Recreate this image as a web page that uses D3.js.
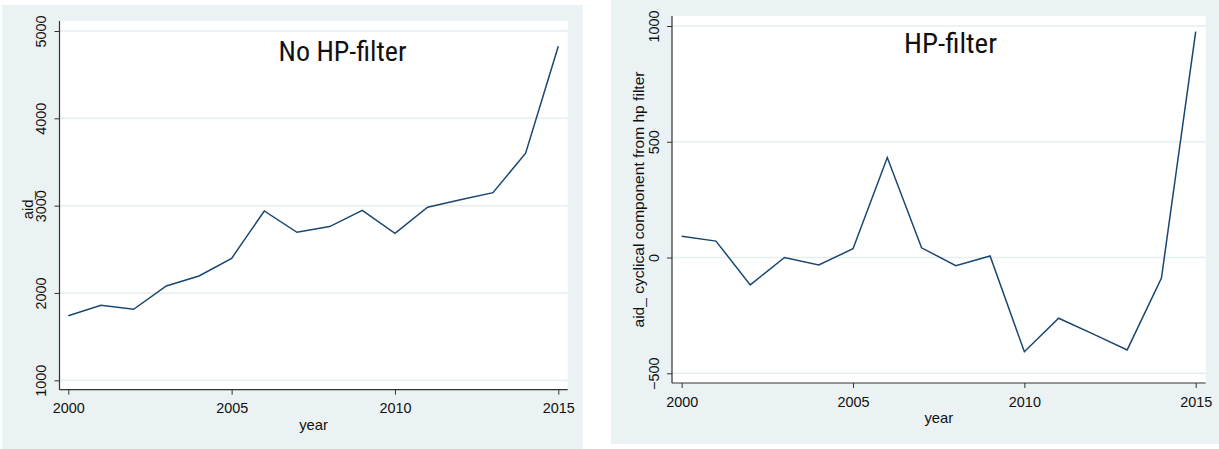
<!DOCTYPE html>
<html>
<head>
<meta charset="utf-8">
<script src="https://cdn.jsdelivr.net/npm/d3@7/dist/d3.min.js"></script>
<style>
  html, body { margin: 0; padding: 0; background: #ffffff; }
  svg { display: block; }
  text { font-family: "Liberation Sans", Arial, Helvetica, sans-serif; fill: #111; }
</style>
</head>
<body>
<svg id="chart" width="1219" height="449"></svg>
<script>
// ---------------- DATA ----------------
const years = [2000, 2001, 2002, 2003, 2004, 2005, 2006, 2007, 2008, 2009, 2010, 2011, 2012, 2013, 2014, 2015];
const aidRaw = [1740, 1859, 1813, 2080, 2195, 2397, 2939, 2695, 2760, 2947, 2684, 2982, 3068, 3149, 3600, 4826];
const aidCycle = [92, 71, -118, 0, -32, 38, 432, 42, -35, 7, -407, -262, -330, -399, -89, 976];
const xTicks = [2000, 2005, 2010, 2015];
const leftYTicks = [1000, 2000, 3000, 4000, 5000];
const rightYTicks = [-500, 0, 500, 1000];
const leftTitle = "No HP-filter";
const rightTitle = "HP-filter";
const xTitle = "year";
const leftYTitle = "aid_";
const rightYTitle = "aid_ cyclical component from hp filter";

// ---------------- LAYOUT ----------------
const BG = "#eaf2f3";
const LINE = "#1a476f";
const GRID = "#e6eef0";
const AXIS = "#333333";

const svg = d3.select("#chart");

const panels = [
  {
    bg: {x: 2, y: 5, w: 580.7, h: 444},
    plot: {x0: 59.5, x1: 567.7, y0: 21, y1: 389.7},
    xRange: [68.3, 558.3],
    yDomain: [1000, 5000], yRange: [380.3, 31],
    yTicks: leftYTicks, values: aidRaw,
    title: leftTitle, titleX: 342.5, titleY: 60.7, titleLen: 128,
    yTitle: leftYTitle, yTitleX: 33,
    yTitleLen: null
  },
  {
    bg: {x: 611, y: 0, w: 608, h: 444},
    plot: {x0: 672, x1: 1205.7, y0: 16, y1: 383},
    xRange: [681.7, 1195.7],
    yDomain: [-500, 1000], yRange: [373.3, 26],
    yTicks: rightYTicks, values: aidCycle,
    title: rightTitle, titleX: 950.5, titleY: 53.3, titleLen: 93,
    yTitle: rightYTitle, yTitleX: 643.5,
    yTitleLen: 256
  }
];

panels.forEach(p => {
  const g = svg.append("g");
  // graph region background
  g.append("rect")
    .attr("x", p.bg.x).attr("y", p.bg.y)
    .attr("width", p.bg.w).attr("height", p.bg.h)
    .attr("fill", BG);
  // plot region
  g.append("rect")
    .attr("x", p.plot.x0).attr("y", p.plot.y0)
    .attr("width", p.plot.x1 - p.plot.x0).attr("height", p.plot.y1 - p.plot.y0)
    .attr("fill", "#ffffff");

  const x = d3.scaleLinear().domain([2000, 2015]).range(p.xRange);
  const y = d3.scaleLinear().domain(p.yDomain).range(p.yRange);

  // gridlines
  g.append("g").selectAll("line")
    .data(p.yTicks)
    .join("line")
    .attr("x1", p.plot.x0).attr("x2", p.plot.x1)
    .attr("y1", d => y(d)).attr("y2", d => y(d))
    .attr("stroke", GRID).attr("stroke-width", 1.5);

  // y axis
  const yAxis = g.append("g")
    .attr("transform", `translate(${p.plot.x0},0)`)
    .call(d3.axisLeft(y).tickValues(p.yTicks).tickSize(5).tickSizeOuter(0).tickFormat(d3.format("d")));
  yAxis.select(".domain").remove();
  yAxis.selectAll(".tick line").attr("stroke", AXIS).attr("stroke-width", 1);
  yAxis.selectAll(".tick text")
    .attr("x", null).attr("dy", null).attr("y", null)
    .attr("transform", "translate(-13.5,0) rotate(-90)")
    .attr("text-anchor", "middle")
    .style("font-size", "14.4px")
    .attr("fill", "#111")
    .attr("font-family", null);

  // x axis
  const xAxis = g.append("g")
    .attr("transform", `translate(0,${p.plot.y1})`)
    .call(d3.axisBottom(x).tickValues(xTicks).tickSize(5).tickSizeOuter(0).tickFormat(d3.format("d")));
  xAxis.select(".domain").remove();
  xAxis.selectAll(".tick line").attr("stroke", AXIS).attr("stroke-width", 1);
  xAxis.selectAll(".tick text")
    .attr("y", 23.5).attr("dy", null)
    .style("font-size", "14.4px")
    .attr("fill", "#111")
    .attr("font-family", null);

  // axis lines
  g.append("line")
    .attr("x1", p.plot.x0).attr("x2", p.plot.x0)
    .attr("y1", p.plot.y0).attr("y2", p.plot.y1)
    .attr("stroke", AXIS).attr("stroke-width", 1.2);
  g.append("line")
    .attr("x1", p.plot.x0).attr("x2", p.plot.x1)
    .attr("y1", p.plot.y1).attr("y2", p.plot.y1)
    .attr("stroke", AXIS).attr("stroke-width", 1.2);

  // series line
  const line = d3.line().x((d, i) => x(years[i])).y(d => y(d));
  g.append("path")
    .datum(p.values)
    .attr("d", line)
    .attr("fill", "none")
    .attr("stroke", LINE)
    .attr("stroke-width", 1.5)
    .attr("stroke-linejoin", "miter");

  // title
  g.append("text")
    .attr("x", p.titleX).attr("y", p.titleY)
    .attr("text-anchor", "middle")
    .attr("textLength", p.titleLen)
    .attr("lengthAdjust", "spacingAndGlyphs")
    .style("font-family", '"Liberation Sans Narrow", "Roboto Condensed", "DejaVu Sans Condensed", Roboto, sans-serif')
    .style("font-size", "28px")
    .text(p.title);

  // x title
  const xc = (p.plot.x0 + p.plot.x1) / 2;
  g.append("text")
    .attr("x", xc).attr("y", p.plot.y1 + 39.8)
    .attr("text-anchor", "middle")
    .style("font-size", "14.8px")
    .text(xTitle);

  // y title
  const yc = (p.plot.y0 + p.plot.y1) / 2;
  const yt = g.append("text")
    .attr("transform", `translate(${p.yTitleX},${yc}) rotate(-90)`)
    .attr("text-anchor", "middle")
    .style("font-size", "14.8px")
    .text(p.yTitle);
  if (p.yTitleLen) yt.attr("textLength", p.yTitleLen).attr("lengthAdjust", "spacingAndGlyphs");
});
</script>
</body>
</html>
